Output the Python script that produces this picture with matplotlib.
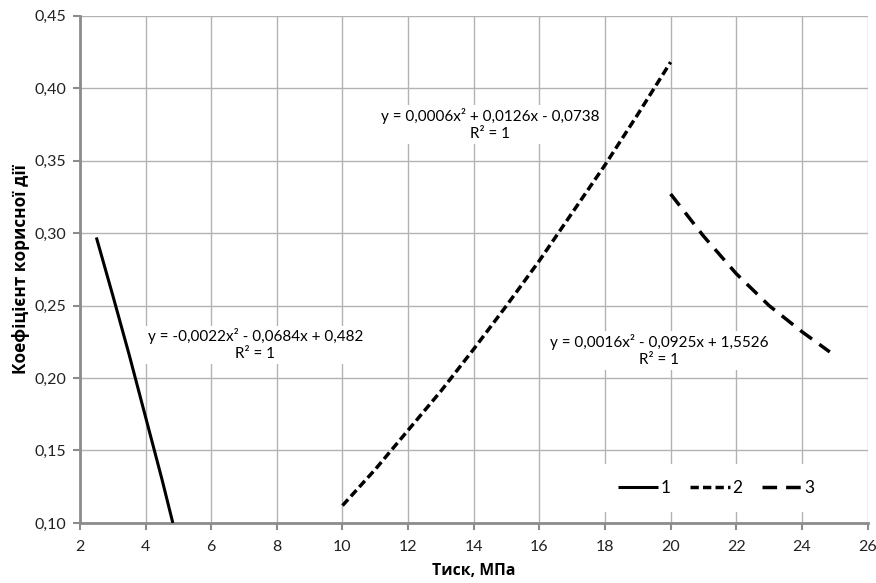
import matplotlib
matplotlib.use('Agg')
import matplotlib.pyplot as plt

# curve 1 (solid)
x1 = [2.5, 3.0, 3.5, 4.0, 4.5, 4.83]
y1 = [0.297, 0.257, 0.216, 0.173, 0.130, 0.100]

# curve 2 (short dashes)
x2 = [10, 11, 12, 13, 14, 15, 16, 17, 18, 19, 20]
y2 = [0.112, 0.137, 0.164, 0.191, 0.220, 0.250, 0.281, 0.314, 0.347, 0.382, 0.418]

# curve 3 (long dashes)
x3 = [20, 21, 22, 23, 24, 24.85]
y3 = [0.327, 0.298, 0.272, 0.250, 0.232, 0.218]

labels = ['1', '2', '3']
eq1 = 'y = -0,0022x² - 0,0684x + 0,482\nR² = 1'
eq2 = 'y = 0,0006x² + 0,0126x - 0,0738\nR² = 1'
eq3 = 'y = 0,0016x² - 0,0925x + 1,5526\nR² = 1'

xticks = list(range(2, 27, 2))
yticks = [0.10, 0.15, 0.20, 0.25, 0.30, 0.35, 0.40, 0.45]

num_font = ['Lato', 'Open Sans', 'DejaVu Sans']
cyr_font = ['Open Sans', 'DejaVu Sans']

fig = plt.figure(figsize=(8.76, 5.83), dpi=100)
ax = fig.add_axes([0.0913, 0.103, 0.899, 0.870])

ax.plot(x1, y1, color='black', lw=2.2, solid_capstyle='butt', label=labels[0], zorder=3)
ax.plot(x2, y2, color='black', lw=2.5, dashes=(2.4, 1.2), label=labels[1], zorder=3)
ax.plot(x3, y3, color='black', lw=2.5, dashes=(4.2, 2.6), label=labels[2], zorder=3)

ax.set_xlim(2, 26)
ax.set_ylim(0.10, 0.45)
ax.set_xticks(xticks)
ax.set_yticks(yticks)
ax.set_xticklabels([str(t) for t in xticks], family=num_font, fontsize=11.5)
ax.set_yticklabels([('%.2f' % t).replace('.', ',') for t in yticks], family=num_font, fontsize=11.5)
ax.grid(True, color='#b3b3b3', lw=1.0, zorder=0)
ax.set_axisbelow(True)

for s in ['top', 'right']:
    ax.spines[s].set_visible(False)
for s in ['left', 'bottom']:
    ax.spines[s].set_color('#8c8c8c')
    ax.spines[s].set_linewidth(2.0)
ax.tick_params(direction='out', length=5, width=1.5, color='#8c8c8c', labelcolor='#222222')
ax.tick_params(axis='x', pad=7)
ax.tick_params(axis='y', pad=5)

ax.set_xlabel('Тиск, МПа', family=cyr_font, fontsize=11.3, fontweight='bold', labelpad=7)
ax.set_ylabel('Коефіцієнт корисної дії', family=cyr_font, fontsize=12.3, fontweight='bold', labelpad=3)

box = dict(facecolor='white', edgecolor='none', pad=2)
for xx, yy, txt in [(7.34, 0.223, eq1), (14.5, 0.375, eq2), (19.66, 0.219, eq3)]:
    ax.text(xx, yy, txt, ha='center', va='center', fontsize=11, family=num_font,
            bbox=box, zorder=2, linespacing=1.25)

leg = ax.legend(loc='center', bbox_to_anchor=(0.808, 0.069), ncol=3, frameon=True,
                framealpha=1, edgecolor='none', fancybox=False, handlelength=2.3,
                handletextpad=0.15, columnspacing=1.1, borderpad=0.9,
                prop={'family': num_font, 'size': 12.5})

fig.savefig('out.png', dpi=100)
